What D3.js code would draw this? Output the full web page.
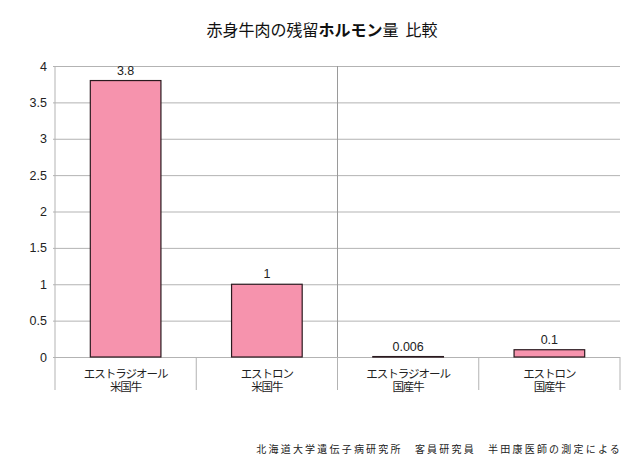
<!DOCTYPE html>
<html>
<head>
<meta charset="utf-8">
<script src="https://cdn.jsdelivr.net/npm/d3@7"></script>
<style>
body { margin: 0; background: #fff; }
text { font-family: "Liberation Sans Narrow", "Liberation Sans", "Noto Sans CJK JP", sans-serif; }
</style>
</head>
<body>
<div id="chart"></div>
<script>
const categories = ["エストラジオール\n米国牛", "エストロン\n米国牛", "エストラジオール\n国産牛", "エストロン\n国産牛"];
const values = [3.8, 1, 0.006, 0.1];
const valueLabels = ["3.8", "1", "0.006", "0.1"];
const yTicks = [0, 0.5, 1, 1.5, 2, 2.5, 3, 3.5, 4];
const titleParts = [["赤身牛肉の残留", 400], ["ホルモン", 700], ["量\u00a0\u00a0比較", 400]];
const note = "北海道大学遺伝子病研究所　客員研究員　半田康医師の測定による";

const svgWidth = 640;
const svgHeight = 463;
const margin = { top: 66, right: 20, bottom: 106, left: 55 };
const chartWidth = svgWidth - margin.left - margin.right;
const chartHeight = svgHeight - margin.top - margin.bottom;

const root = d3.select("#chart")
    .append("svg")
    .attr("width", svgWidth)
    .attr("height", svgHeight);

root.append("text")
    .attr("x", 322)
    .attr("y", 36)
    .attr("text-anchor", "middle")
    .style("font-family", "'Noto Sans CJK JP', sans-serif")
    .style("font-size", "16px")
    .style("fill", "#111")
    .selectAll("tspan")
    .data(titleParts)
    .enter()
    .append("tspan")
    .style("font-weight", d => d[1])
    .text(d => d[0]);

root.append("text")
    .attr("x", 622)
    .attr("y", 453)
    .attr("text-anchor", "end")
    .style("font-family", "'Noto Sans CJK JP', sans-serif")
    .style("font-size", "10px")
    .style("letter-spacing", "2.2px")
    .style("fill", "#222")
    .text(note);

const svg = root.append("g")
    .attr("transform", `translate(${margin.left},${margin.top})`);

const x = d3.scaleBand()
    .domain(categories)
    .range([0, chartWidth])
    .paddingInner(0.5)
    .paddingOuter(0.25);

const xOuter = d3.scaleBand()
    .domain(categories)
    .range([0, chartWidth]);

const y = d3.scaleLinear()
    .domain([0, 4])
    .range([chartHeight, 0]);

// gridlines + y axis
const yAxis = svg.append("g")
    .call(d3.axisLeft(y).tickValues(yTicks).tickSize(-chartWidth).tickFormat(d3.format("~g")));
yAxis.select(".domain").remove();
yAxis.selectAll("line")
    .attr("x1", -2)
    .attr("x2", chartWidth)
    .attr("stroke", "#b3b3b3");
yAxis.selectAll("text")
    .attr("x", -8)
    .style("font-size", "12.5px")
    .style("fill", "#222");

// left axis line and middle vertical line
svg.append("line")
    .attr("x1", 0).attr("x2", 0)
    .attr("y1", 0).attr("y2", chartHeight)
    .attr("stroke", "#b3b3b3");
svg.append("line")
    .attr("x1", xOuter(categories[2])).attr("x2", xOuter(categories[2]))
    .attr("y1", 0).attr("y2", chartHeight)
    .attr("stroke", "#9a9a9a");

// category separators below the axis
const seps = xOuter.domain().map(d => xOuter(d)).concat([chartWidth]);
svg.selectAll(".sep")
    .data(seps)
    .enter()
    .append("line")
    .attr("x1", d => d).attr("x2", d => d)
    .attr("y1", chartHeight).attr("y2", chartHeight + 33)
    .attr("stroke", "#b3b3b3");

// category labels, one text per line
const catLines = categories.flatMap(d => d.split("\n").map((l, i) => ({ cat: d, line: l, i })));
svg.selectAll(".cat")
    .data(catLines)
    .enter()
    .append("text")
    .attr("text-anchor", "middle")
    .attr("x", d => xOuter(d.cat) + xOuter.bandwidth() / 2)
    .attr("y", d => chartHeight + 21 + d.i * 13)
    .style("font-family", "'Noto Sans CJK JP', sans-serif")
    .style("font-size", "11.5px")
    .style("letter-spacing", "-1px")
    .style("fill", "#222")
    .text(d => d.line);

// bars
svg.selectAll(".bar")
    .data(values)
    .enter()
    .append("rect")
    .attr("x", (d, i) => x(categories[i]))
    .attr("y", d => y(d))
    .attr("width", x.bandwidth())
    .attr("height", d => Math.max(0.5, chartHeight - y(d)))
    .attr("fill", "#f693ad")
    .attr("stroke", "#2a1a1f")
    .attr("stroke-width", 1.2);

// value labels
svg.selectAll(".label")
    .data(values)
    .enter()
    .append("text")
    .attr("x", (d, i) => x(categories[i]) + x.bandwidth() / 2)
    .attr("y", d => y(d) - 6)
    .attr("text-anchor", "middle")
    .style("font-size", "12.5px")
    .style("fill", "#222")
    .text((d, i) => valueLabels[i]);
</script>
</body>
</html>
